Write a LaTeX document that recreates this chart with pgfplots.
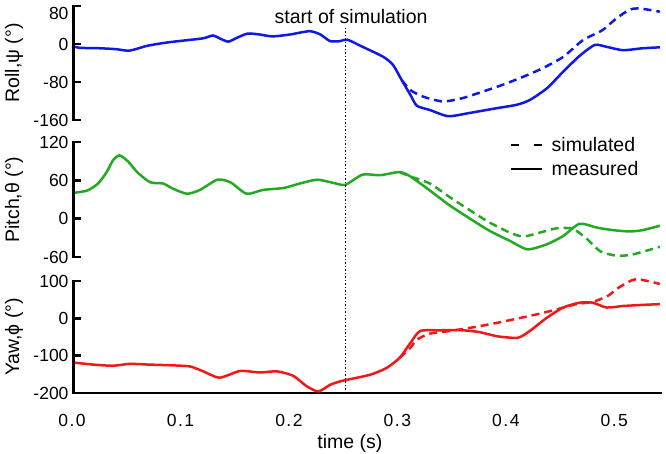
\documentclass[border=0pt]{standalone}
\usepackage{fontspec}
\setmainfont{Liberation Sans}
\usepackage{pgfplots}
\pgfplotsset{compat=1.18}
\definecolor{cblue}{RGB}{15,25,230}
\definecolor{cgreen}{RGB}{35,170,35}
\definecolor{cred}{RGB}{240,25,25}
\newcommand\fs{\fontsize{17.5bp}{21bp}\selectfont}
\newcommand\fl{\fontsize{19.5bp}{23bp}\selectfont}
\tikzset{yax/.style={line width=2.5bp, black}}
\pgfplotsset{
 panel/.style={
  scale only axis, width=590bp, xmin=0, xmax=0.544,
  separate axis lines,
  axis x line*=bottom, axis y line*=left,
  axis line style={-},
  y axis line style={draw=none},
  ytick style={draw=none},
  tick label style={font=\fs},
  /pgf/number format/assume math mode=true,
  clip=false,
  every axis y label/.style={font=\fl, at={(axis description cs:-0.0983,0.5)}, rotate=90, anchor=center},
 },
 noxaxis/.style={x axis line style={draw=none}, xtick=\empty},
 meas/.style={line width=2.5bp, smooth, tension=0.4},
 sim/.style={line width=2.5bp, smooth, tension=0.4, dash pattern=on 8bp off 5bp},
}
\begin{document}
\begin{tikzpicture}
\useasboundingbox (0,0) rectangle (666bp,-454bp);
% Roll
\begin{axis}[panel, noxaxis, at={(72bp,-120bp)}, anchor=south west, height=114bp,
  ymin=-160, ymax=80, ytick={-160,-80,0,80},
  yticklabels={-160,-80,0,\raisebox{-7bp}[12.5bp][0bp]{80}},
  ylabel={Roll,ψ (°)}]
\addplot[cblue, meas] coordinates {
(0,-4) (0.007,-8) (0.026,-9) (0.041,-11) (0.053,-14) (0.069,-4) (0.087,3)
(0.106,8) (0.121,12) (0.130,18) (0.136,12) (0.144,5) (0.152,13) (0.162,22)
(0.173,20) (0.185,16) (0.201,20) (0.219,27) (0.229,20) (0.238,6) (0.247,6)
(0.254,9) (0.268,-6) (0.287,-27) (0.296,-44) (0.304,-76) (0.312,-107)
(0.318,-130) (0.330,-139) (0.347,-152) (0.367,-145) (0.392,-135) (0.410,-128)
(0.422,-118) (0.438,-93) (0.453,-58) (0.468,-25) (0.482,-2) (0.493,-6)
(0.508,-13) (0.526,-9) (0.542,-7)};
\addplot[cblue, sim] coordinates {
(0.304,-76) (0.312,-97) (0.324,-111) (0.342,-121) (0.360,-114) (0.379,-100)
(0.397,-86) (0.416,-69) (0.434,-51) (0.453,-27) (0.471,8) (0.489,29)
(0.502,54) (0.514,72) (0.523,75) (0.542,68)};
\node[font=\fl] at (axis description cs:0.473,0.905) {start of simulation};
\end{axis}
% Pitch
\begin{axis}[panel, noxaxis, at={(72bp,-257bp)}, anchor=south west, height=115bp,
  ymin=-60, ymax=120, ytick={-60,0,60,120},
  ylabel={Pitch,θ (°)},
  legend style={draw=none, fill=none, font=\fl, at={(axis description cs:0.7424,1.0565)},
    anchor=north west, inner sep=0pt, row sep=6bp, column sep=6bp, cells={anchor=west},
    nodes={inner sep=2bp, text depth=0pt}},
  legend image code/.code={\draw[#1] (0bp,0bp) -- (31bp,0bp);}]
\addlegendimage{black, line width=2.5bp, dash pattern=on 8bp off 15bp}
\addlegendentry{simulated}
\addlegendimage{black, line width=2.5bp}
\addlegendentry{measured}
\addplot[cgreen, meas] coordinates {
(0,40) (0.014,44) (0.024,55) (0.032,73) (0.038,92) (0.044,99) (0.052,89)
(0.060,73) (0.072,57) (0.084,55) (0.093,47) (0.106,39) (0.118,45) (0.134,61)
(0.146,57) (0.161,39) (0.176,45) (0.195,48) (0.210,55) (0.226,61) (0.241,56)
(0.252,53) (0.268,69) (0.284,68) (0.302,73) (0.312,66) (0.330,44) (0.348,21)
(0.367,0) (0.385,-19) (0.404,-35) (0.420,-48) (0.438,-40) (0.453,-27)
(0.468,-8) (0.484,-14) (0.499,-18) (0.514,-20) (0.526,-18) (0.542,-11)};
\addplot[cgreen, sim] coordinates {
(0.302,73) (0.312,66) (0.330,55) (0.348,34) (0.367,13) (0.385,-6) (0.404,-22)
(0.416,-28) (0.431,-22) (0.447,-15) (0.462,-16) (0.475,-32) (0.487,-51)
(0.502,-58) (0.517,-56) (0.542,-44)};
\end{axis}
% Yaw
\begin{axis}[panel, at={(72bp,-393bp)}, anchor=south west, height=112bp,
  x axis line style={line width=1.6bp, black},
  xtick={0,0.1,0.2,0.3,0.4,0.5},
  xticklabels={0\kern1.5bp.\kern1.5bp0,0\kern1.5bp.\kern1.5bp1,0\kern1.5bp.\kern1.5bp2,0\kern1.5bp.\kern1.5bp3,0\kern1.5bp.\kern1.5bp4,0\kern1.5bp.\kern1.5bp5},
  xtick style={draw=none},
  xticklabel style={yshift=-18bp},
  ymin=-200, ymax=100, ytick={-200,-100,0,100},
  ylabel={Yaw,ϕ (°)},
  xlabel={time (s)},
  every axis x label/.style={font=\fl, at={(axis description cs:0.471,0)}, anchor=center, yshift=-50bp}]
\addplot[cred, meas] coordinates {
(0,-118) (0.020,-124) (0.038,-127) (0.053,-122) (0.072,-124) (0.093,-126)
(0.109,-129) (0.121,-142) (0.136,-159) (0.155,-141) (0.173,-145) (0.189,-142)
(0.204,-154) (0.216,-181) (0.227,-196) (0.238,-178) (0.247,-169) (0.253,-165)
(0.275,-151) (0.290,-133) (0.302,-106) (0.312,-66) (0.321,-34) (0.339,-32)
(0.360,-32) (0.376,-37) (0.392,-48) (0.411,-52) (0.422,-34) (0.438,2)
(0.453,29) (0.468,42) (0.480,42) (0.493,29) (0.508,33) (0.526,36) (0.542,38)};
\addplot[cred, sim] coordinates {
(0.302,-106) (0.312,-79) (0.318,-57) (0.330,-41) (0.348,-34) (0.370,-24)
(0.392,-12) (0.410,-1) (0.429,11) (0.447,24) (0.465,38) (0.480,44)
(0.494,60) (0.505,84) (0.520,105) (0.542,92)};
\draw[black, line width=1bp, dash pattern=on 1.5bp off 2bp] (axis cs:0.2525,-200) -- ([yshift=366bp]axis cs:0.2525,-200);
\end{axis}
% y axis lines and inward ticks (decoration only)
\foreach \ya/\yb/\ticks in {-6/-120/{-6,-44,-82,-120}, -142/-257/{-142,-180.33,-218.67,-257}, -281/-393/{-281,-318.33,-355.67}}{
  \draw[yax] (73.25bp,\ya bp) -- (73.25bp,\yb bp);
  \foreach \t in \ticks { \draw[yax] (72bp,\t bp) -- (81bp,\t bp); }
}
\end{tikzpicture}
\end{document}
